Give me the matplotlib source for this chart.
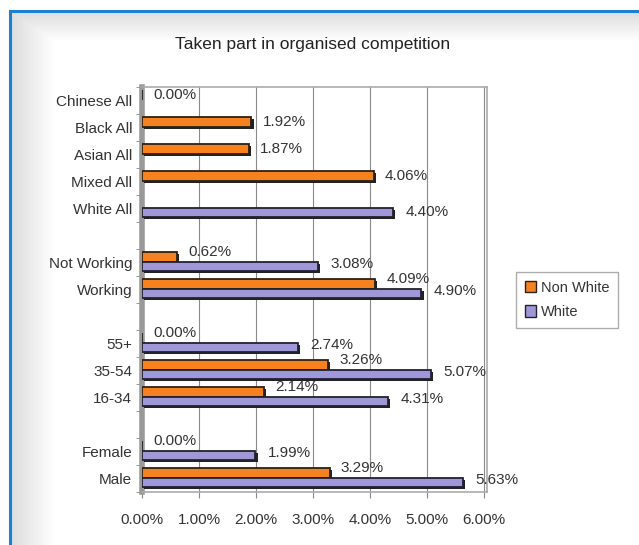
import numpy as np
import matplotlib
matplotlib.use('Agg')
import matplotlib.pyplot as plt
import matplotlib.patheffects as pe
from matplotlib.lines import Line2D
from matplotlib.patches import Patch

plt.rcParams['font.family'] = ['Liberation Sans', 'DejaVu Sans']

# groups of categories (top to bottom), a blank slot between groups
groups = [['Chinese All', 'Black All', 'Asian All', 'Mixed All', 'White All'],
          ['Not Working', 'Working'],
          ['55+', '35-54', '16-34'],
          ['Female', 'Male']]
non_white = [0.00, 1.92, 1.87, 4.06, np.nan, 0.62, 4.09, 0.00, 3.26, 2.14, 0.00, 3.29]
white = [np.nan, np.nan, np.nan, np.nan, 4.40, 3.08, 4.90, 2.74, 5.07, 4.31, 1.99, 5.63]
xticks = [0, 1, 2, 3, 4, 5, 6]

c_orange = '#F5821F'
c_purple = '#A097D8'
txt = '#333333'

cats = []
ys = []
pos = 0
for g in groups:
    for c in g:
        cats.append(c)
        ys.append(pos)
        pos += 1
    pos += 1
ys = np.array(ys, dtype=float)

fig = plt.figure(figsize=(6.39, 5.45), dpi=100)
fig.patch.set_facecolor('white')

# light gray shading inside the blue frame
bg = fig.add_axes([10/639, 0, 1 - 10/639, 1 - 11/545], zorder=-5)
H, W = 534, 629
yy, xx = np.mgrid[0:H, 0:W]
d = np.minimum(xx / 45.0, yy / 30.0)
shade = 0.86 + 0.14 * np.clip(d, 0, 1)
bg.imshow(shade, cmap='gray', vmin=0, vmax=1, aspect='auto', extent=(0, 1, 0, 1))
bg.axis('off')
fig.add_artist(Line2D([10/639, 10/639], [0, 1 - 11/545], color='#1E7FCF', lw=2.2))
fig.add_artist(Line2D([10/639, 1], [1 - 11/545, 1 - 11/545], color='#1E7FCF', lw=2.2))

ax = fig.add_axes([142/639, 1 - 492/545, (487 - 142)/639, (492 - 87)/545])
ax.set_facecolor('white')

h = 0.35
shadow = [pe.withSimplePatchShadow(offset=(1.5, -1.5), shadow_rgbFace='#222222', alpha=1.0)]
ax.barh(ys - 0.2, non_white, height=h, color=c_orange, edgecolor='#2e2018', lw=1.3,
        path_effects=shadow, zorder=3)
ax.barh(ys + 0.14, white, height=h, color=c_purple, edgecolor='#22222e', lw=1.3,
        path_effects=shadow, zorder=3)

for y, a, b in zip(ys, non_white, white):
    both = not np.isnan(a) and not np.isnan(b)
    if not np.isnan(a):
        ax.annotate(f'{a:.2f}%', (a, y - 0.2), xytext=(8, 4 if both else 0),
                    textcoords='offset points', ha='left', va='center',
                    fontsize=11, color=txt, zorder=4)
    if not np.isnan(b):
        ax.annotate(f'{b:.2f}%', (b, y + 0.14), xytext=(9, 2 if both else 0),
                    textcoords='offset points', ha='left', va='center',
                    fontsize=11, color=txt, zorder=4)

ax.set_xlim(0, 6.05)
ax.set_ylim(ys[-1] + 0.37, -0.5)
ax.set_xticks(xticks)
ax.set_xticklabels([f'{v:.2f}%' for v in xticks], fontsize=11, color=txt)
ax.set_yticks(ys)
ax.set_yticklabels(cats, fontsize=11, color=txt)
ax.set_yticks(np.arange(-0.5, ys[-1] + 1, 1), minor=True)
ax.tick_params(axis='y', which='major', length=0, pad=7)
ax.tick_params(axis='y', which='minor', length=4, color='#888888')
ax.tick_params(axis='x', length=4, color='#888888', pad=11)
ax.grid(axis='x', color='#8a8a8a', lw=0.8, zorder=1)
for s in ['top', 'right', 'bottom']:
    ax.spines[s].set_color('#aaaaaa')
    ax.spines[s].set_linewidth(1.2)
ax.spines['left'].set_color('#999999')
ax.spines['left'].set_linewidth(4)

fig.text(313/639, 1 - 44/545, 'Taken part in organised competition', ha='center', va='center',
         fontsize=12.5, color='#222222')

handles = [Patch(facecolor=c_orange, edgecolor='#2e2018', label='Non White'),
           Patch(facecolor=c_purple, edgecolor='#22222e', label='White')]
leg = fig.legend(handles=handles, loc='center', bbox_to_anchor=(567/639, 1 - 300/545),
                 fontsize=10.5, frameon=True, fancybox=False, handlelength=0.8, handleheight=0.8,
                 handletextpad=0.3, labelspacing=0.7, borderpad=0.6)
leg.get_frame().set_edgecolor('#999999')
leg.get_frame().set_facecolor('white')
for t in leg.get_texts():
    t.set_color(txt)

fig.savefig('out.png', dpi=100)
